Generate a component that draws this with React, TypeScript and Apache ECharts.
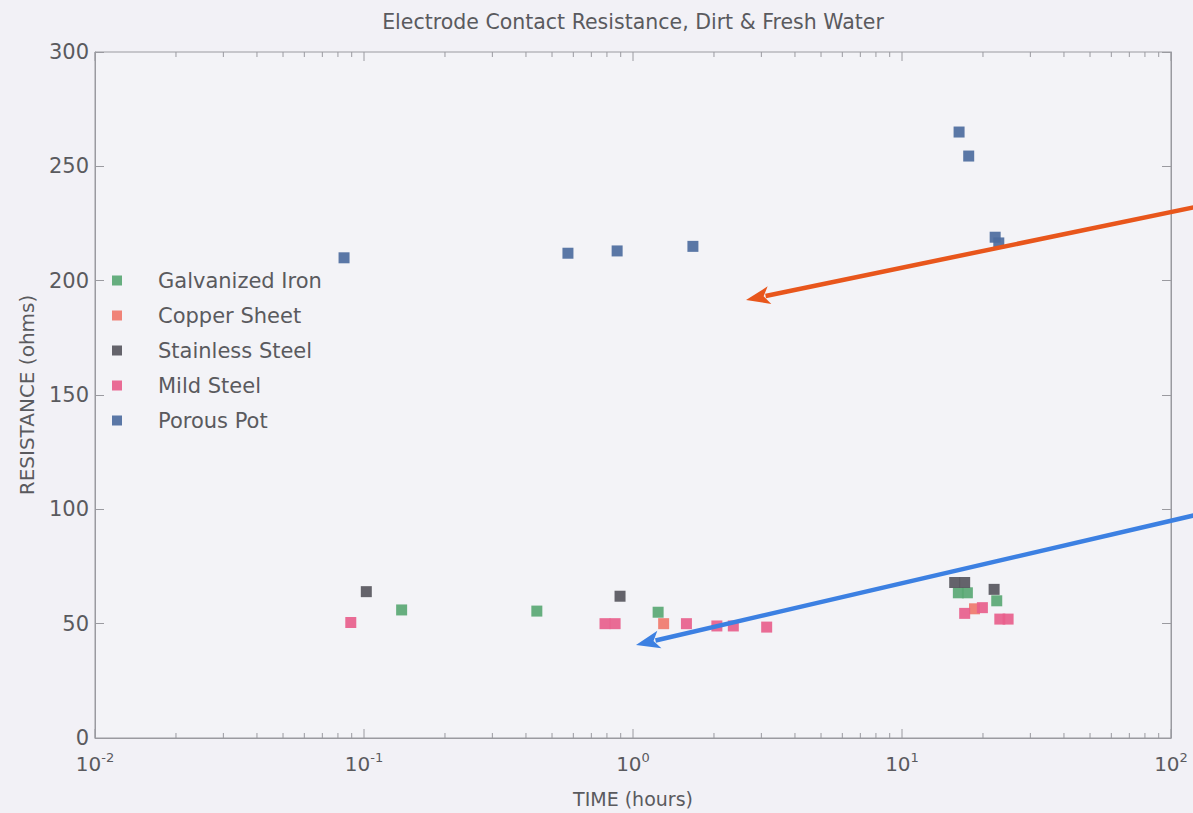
import React, { useEffect, useRef } from "react";
import * as echarts from "echarts";

const TITLE = "Electrode Contact Resistance, Dirt & Fresh Water";
const X_NAME = "TIME (hours)";
const Y_NAME = "RESISTANCE (ohms)";

const seriesNames = ["Galvanized Iron", "Copper Sheet", "Stainless Steel", "Mild Steel", "Porous Pot"];
const seriesColors = ["#5aa874", "#f07a6c", "#58575e", "#e8608c", "#4d6c9e"];

// [time (hours), resistance (ohms)]
const galvanizedIron: number[][] = [
  [0.138, 56], [0.439, 55.5], [1.24, 55], [16.2, 63.5], [17.5, 63.5], [22.5, 60],
];
const copperSheet: number[][] = [
  [1.3, 50], [18.6, 56.5],
];
const stainlessSteel: number[][] = [
  [0.102, 64], [0.895, 62], [15.7, 68], [17.1, 68], [22.0, 65],
];
const mildSteel: number[][] = [
  [0.0893, 50.5], [0.787, 50], [0.858, 50], [1.58, 50], [2.05, 49], [2.36, 49], [3.14, 48.5],
  [17.1, 54.5], [19.9, 57], [23.1, 52], [24.8, 52],
];
const porousPot: number[][] = [
  [0.0843, 210], [0.573, 212], [0.873, 213], [1.67, 215], [16.3, 265], [17.7, 254.5], [22.2, 219], [22.9, 216.5],
];

const xMin = 0.01;
const xMax = 100;
const yMin = 0;
const yMax = 300;
const yInterval = 50;

const majorXTicks = [0.01, 0.1, 1, 10, 100];
const minorXTicks = [
  0.02, 0.03, 0.04, 0.05, 0.06, 0.07, 0.08, 0.09,
  0.2, 0.3, 0.4, 0.5, 0.6, 0.7, 0.8, 0.9,
  2, 3, 4, 5, 6, 7, 8, 9,
  20, 30, 40, 50, 60, 70, 80, 90,
];

const FONT = "'DejaVu Sans', Verdana, sans-serif";
const TEXT = "#5a5a5e";
const AXIS = "#9a9aa0";

function arrow(x1: number, y1: number, x2: number, y2: number, color: string) {
  const dx = x1 - x2;
  const dy = y1 - y2;
  const len = Math.sqrt(dx * dx + dy * dy);
  const ux = dx / len;
  const uy = dy / len;
  const head = 24;
  const half = 9;
  const bx = x2 + ux * head;
  const by = y2 + uy * head;
  const nx = -uy;
  const ny = ux;
  return [
    {
      type: "line",
      shape: { x1, y1, x2: x2 + ux * (head - 4), y2: y2 + uy * (head - 4) },
      style: { stroke: color, lineWidth: 4.5 },
      z: 100,
    },
    {
      type: "polygon",
      shape: {
        points: [
          [x2, y2],
          [bx + nx * half, by + ny * half],
          [x2 + ux * (head - 6), y2 + uy * (head - 6)],
          [bx - nx * half, by - ny * half],
        ],
      },
      style: { fill: color },
      z: 100,
    },
  ];
}

export default function App() {
  const ref = useRef<HTMLDivElement>(null);

  useEffect(() => {
    if (!ref.current) return;
    const chart = echarts.init(ref.current, undefined, { renderer: "svg" });

    const tickData = [
      ...majorXTicks.map((v) => [v, 0, 1]),
      ...minorXTicks.map((v) => [v, 0, 0]),
    ];

    const scatterData = [galvanizedIron, copperSheet, stainlessSteel, mildSteel, porousPot];

    const option: any = {
      animation: false,
      backgroundColor: "#f2f1f6",
      textStyle: { fontFamily: FONT },
      title: {
        text: TITLE,
        left: 633,
        textAlign: "center",
        top: 11,
        padding: 0,
        textStyle: { fontFamily: FONT, fontSize: 20.5, fontWeight: "normal", color: TEXT },
      },
      grid: {
        left: 95,
        top: 52,
        right: 22,
        bottom: 75,
        show: true,
        borderColor: AXIS,
        borderWidth: 1,
        backgroundColor: "#f3f3f7",
      },
      legend: {
        data: seriesNames,
        orient: "vertical",
        left: 112,
        top: 270,
        padding: 0,
        itemWidth: 10,
        itemHeight: 10,
        itemGap: 14,
        icon: "rect",
        textStyle: {
          fontFamily: FONT,
          fontSize: 21,
          color: TEXT,
          lineHeight: 21,
          padding: [0, 0, 0, 31],
        },
      },
      xAxis: {
        type: "log",
        logBase: 10,
        min: xMin,
        max: xMax,
        name: X_NAME,
        nameLocation: "middle",
        nameGap: 51,
        nameTextStyle: { fontFamily: FONT, fontSize: 19, color: TEXT },
        axisLine: { show: true, lineStyle: { color: AXIS } },
        axisTick: { show: false },
        splitLine: { show: false },
        axisLabel: {
          margin: 13,
          formatter: (v: number) => {
            const e = Math.round(Math.log10(v));
            return `{b|10}{s|${e}}`;
          },
          rich: {
            b: { fontFamily: FONT, fontSize: 20, color: TEXT },
            s: { fontFamily: FONT, fontSize: 13, color: TEXT, padding: [0, 0, 13, 0] },
          },
        },
      },
      yAxis: [
        {
          type: "value",
          min: yMin,
          max: yMax,
          interval: yInterval,
          name: Y_NAME,
          nameLocation: "middle",
          nameGap: 58,
          nameTextStyle: { fontFamily: FONT, fontSize: 20, color: TEXT },
          axisLine: { show: true, lineStyle: { color: AXIS } },
          axisTick: { show: true, inside: true, length: 9, lineStyle: { color: AXIS } },
          splitLine: { show: false },
          axisLabel: { margin: 6, fontFamily: FONT, fontSize: 21, color: TEXT },
        },
        {
          type: "value",
          position: "right",
          min: yMin,
          max: yMax,
          interval: yInterval,
          axisLine: { show: true, lineStyle: { color: AXIS } },
          axisTick: { show: true, inside: true, length: 9, lineStyle: { color: AXIS } },
          splitLine: { show: false },
          axisLabel: { show: false },
        },
      ],
      series: [
        ...seriesNames.map((name, i) => ({
          name,
          type: "scatter",
          symbol: "rect",
          symbolSize: 11,
          itemStyle: { color: seriesColors[i], opacity: 0.92 },
          data: scatterData[i],
          z: 5,
        })),
        {
          name: "ticks",
          type: "custom",
          silent: true,
          z: 3,
          data: tickData,
          renderItem: (params: any, api: any) => {
            const val = api.value(0);
            const major = api.value(2) === 1;
            const pt = api.coord([val, 0]);
            const cs = params.coordSys;
            const len = major ? 9 : 5;
            const x = pt[0];
            const style = { stroke: AXIS, lineWidth: 1 };
            return {
              type: "group",
              children: [
                { type: "line", shape: { x1: x, y1: cs.y + cs.height, x2: x, y2: cs.y + cs.height - len }, style },
                { type: "line", shape: { x1: x, y1: cs.y, x2: x, y2: cs.y + len }, style },
              ],
            };
          },
        },
      ],
      graphic: [
        ...arrow(1200, 206, 746, 300, "#e8561c"),
        ...arrow(1200, 514, 636, 645, "#3c80e2"),
      ],
    };

    chart.setOption(option);
    return () => chart.dispose();
  }, []);

  return (
    <div
      ref={ref}
      style={{ position: "fixed", left: 0, top: 0, width: 1193, height: 813 }}
    />
  );
}
